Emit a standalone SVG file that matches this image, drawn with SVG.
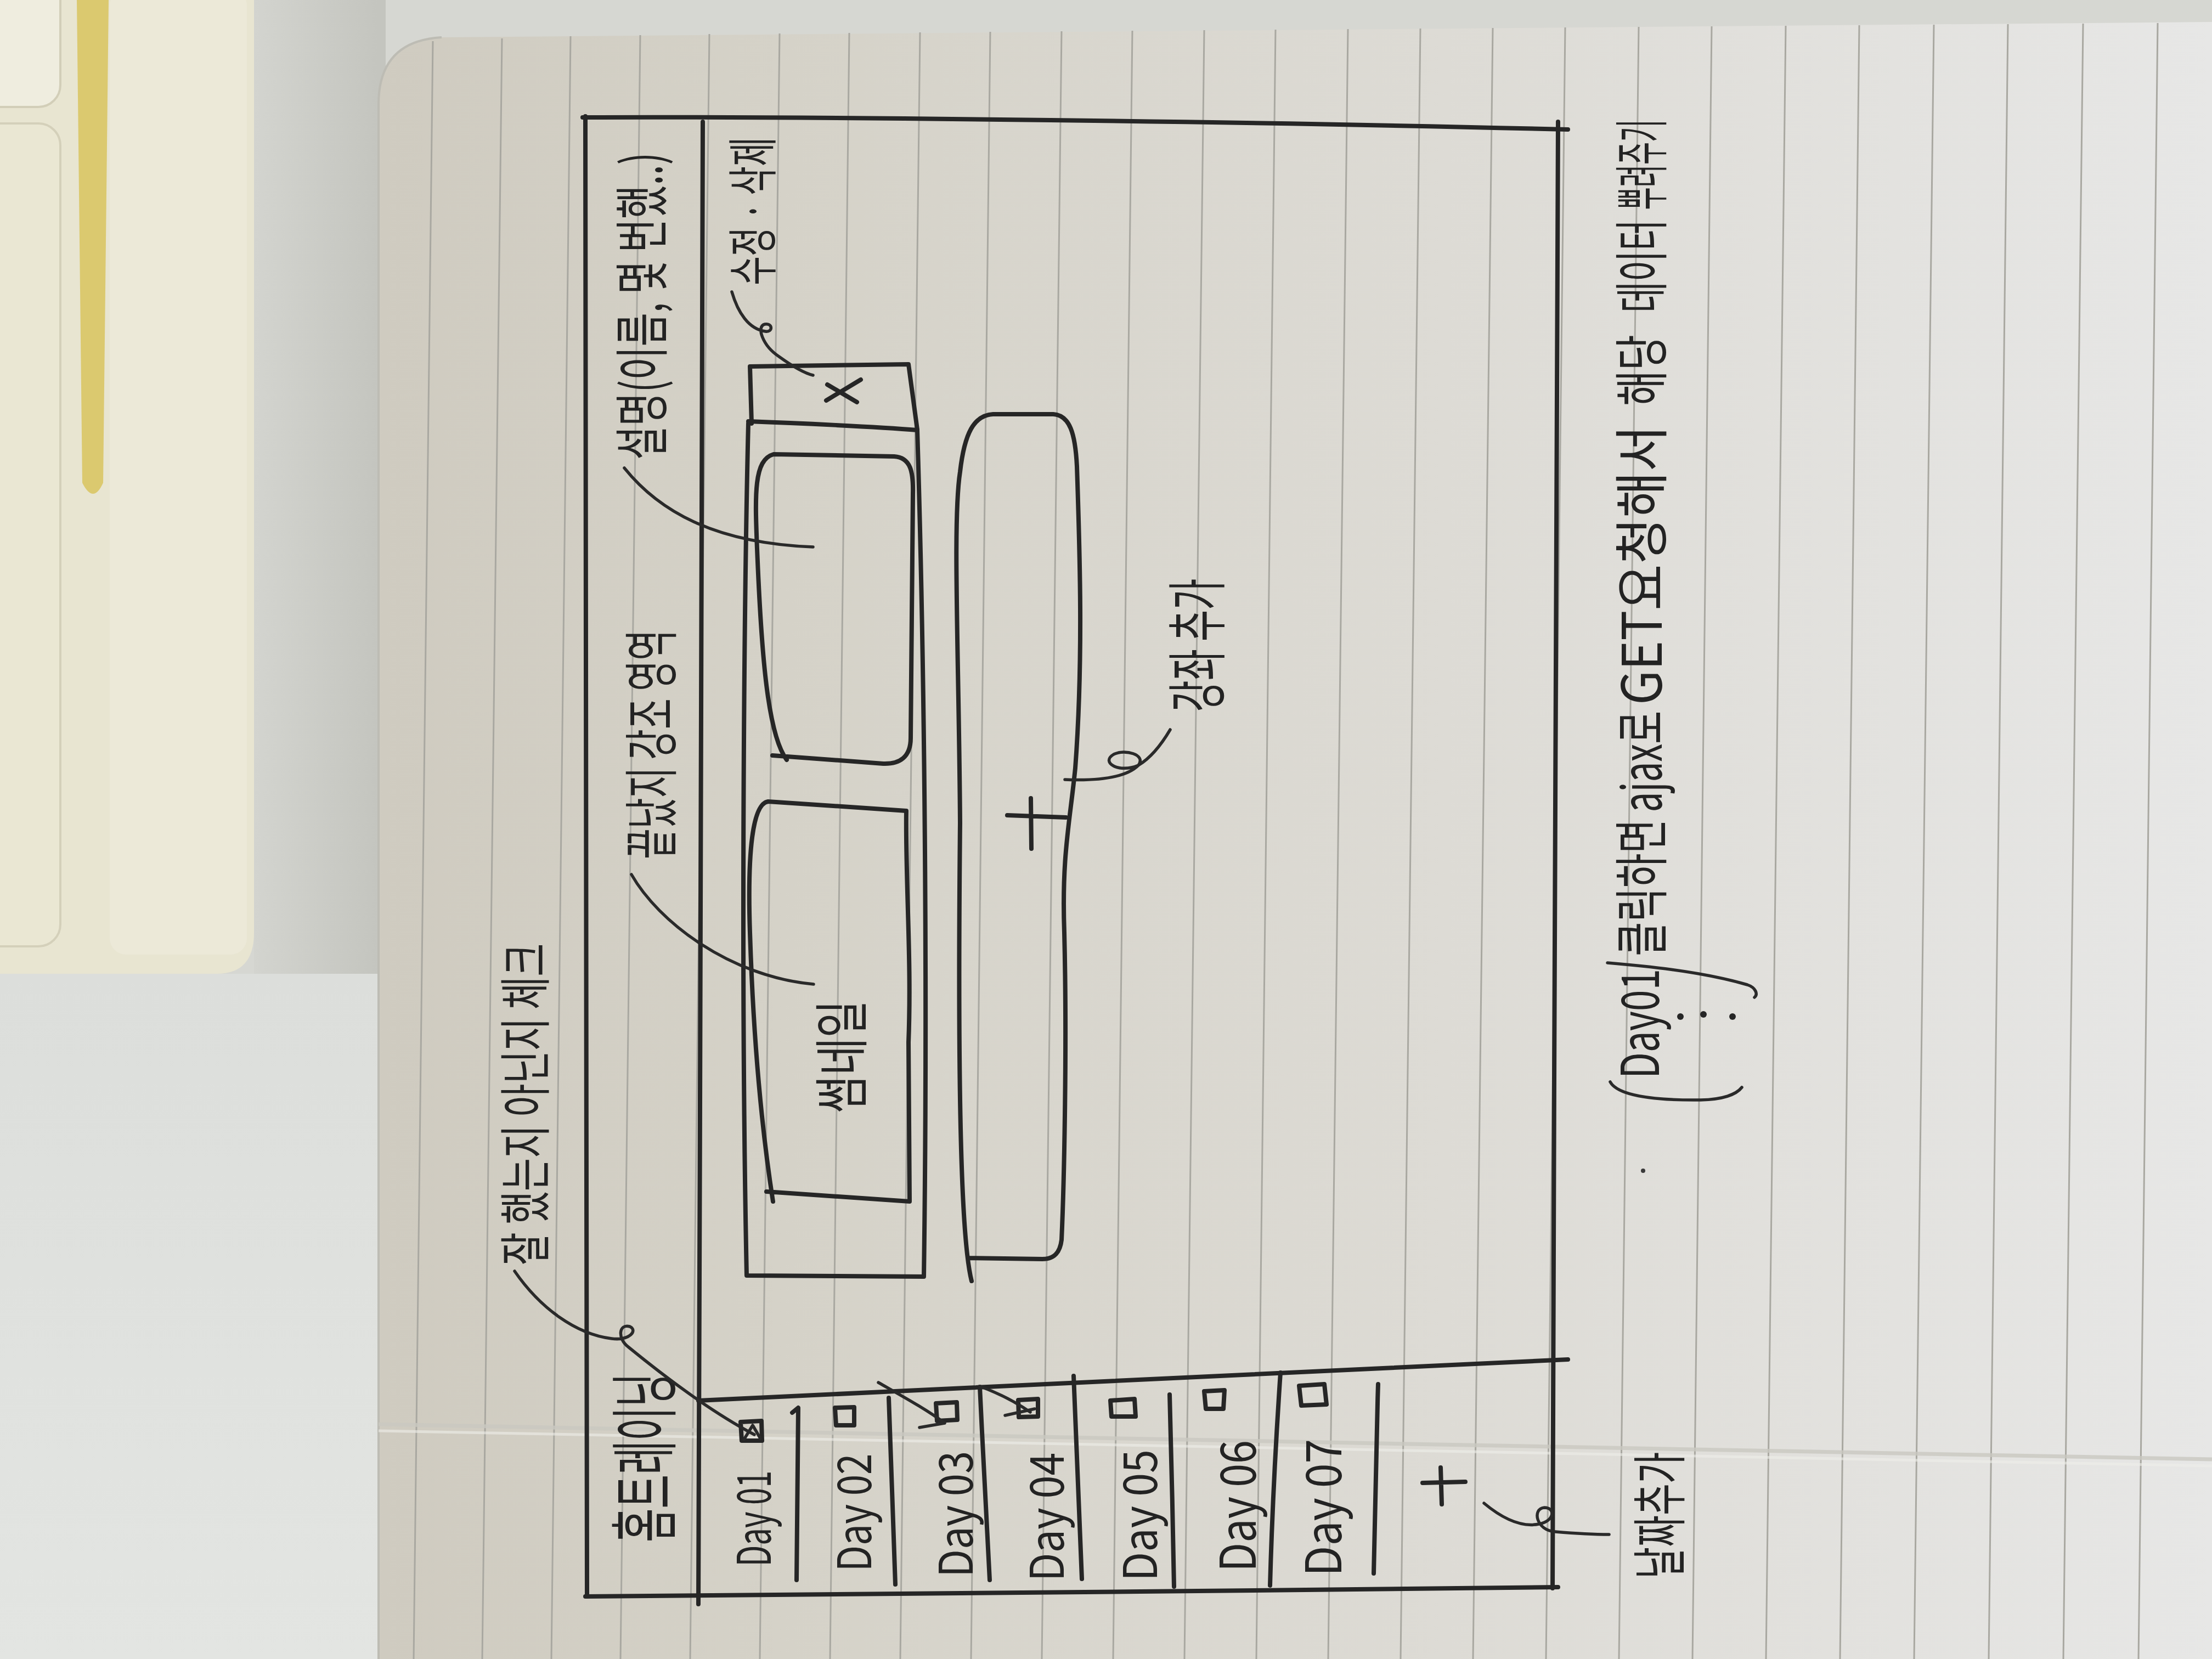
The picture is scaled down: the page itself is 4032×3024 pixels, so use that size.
<svg xmlns="http://www.w3.org/2000/svg" width="4032" height="3024" viewBox="0 0 4032 3024">
  <defs>
    <linearGradient id="paper" x1="690" y1="0" x2="4032" y2="0" gradientUnits="userSpaceOnUse">
      <stop offset="0" stop-color="#cfcbc0"/>
      <stop offset="0.22" stop-color="#d5d2c8"/>
      <stop offset="0.58" stop-color="#dddbd5"/>
      <stop offset="1" stop-color="#e7e7e6"/>
    </linearGradient>
    <linearGradient id="desk" x1="0" y1="1775" x2="0" y2="3024" gradientUnits="userSpaceOnUse">
      <stop offset="0" stop-color="#dcdedb"/>
      <stop offset="1" stop-color="#e3e5e2"/>
    </linearGradient>
    <linearGradient id="gap" x1="463" y1="0" x2="690" y2="0" gradientUnits="userSpaceOnUse">
      <stop offset="0" stop-color="#d3d4cf"/>
      <stop offset="1" stop-color="#c4c5bf"/>
    </linearGradient>
    <style>
      .ink{fill:none;stroke:#262626;stroke-width:8;stroke-linecap:round;stroke-linejoin:round}
      .thin{fill:none;stroke:#2a2a2a;stroke-width:5.5;stroke-linecap:round;stroke-linejoin:round}
      .rule{fill:none;stroke:#a9a8a1;stroke-width:3}
      .hand{fill:#232323;font-family:"Noto Sans CJK KR","Noto Sans",sans-serif;text-anchor:middle;dominant-baseline:central}
    </style>
  </defs>

  <!-- desk and keyboard at the left -->
  <rect x="0" y="0" width="4032" height="3024" fill="#d6d7d2"/>
  <rect x="0" y="1775" width="700" height="1249" fill="url(#desk)"/>
  <rect x="463" y="0" width="240" height="1775" fill="url(#gap)"/>
  <path d="M0,0 L463,0 L463,1700 Q463,1775 395,1775 L0,1775 Z" fill="#e8e5d1"/>
  <rect x="-40" y="-40" width="150" height="235" rx="40" fill="#efeddf" stroke="#d2ceb8" stroke-width="4"/>
  <rect x="-40" y="225" width="150" height="1500" rx="40" fill="#eae7d3" stroke="#d4d0ba" stroke-width="4"/>
  <path d="M140,0 L198,0 L188,880 Q170,920 150,880 Z" fill="#d8c45e" opacity="0.85"/>
  <rect x="200" y="-20" width="250" height="1760" rx="30" fill="#ece9d8"/>

  <!-- notebook page -->
  <path d="M690,3024 L690,190 Q690,75 805,68 L4032,40 L4032,3024 Z" fill="url(#paper)"/>
  <path d="M690,3024 L690,190 Q690,75 805,68" fill="none" stroke="#bdbcb4" stroke-width="4"/>

  <!-- ruled lines -->
  <g id="rules" class="rule">
    <line x1="789" y1="75" x2="754" y2="3024"/>
    <line x1="915" y1="70" x2="879" y2="3024"/>
    <line x1="1040" y1="66" x2="1005" y2="3024"/>
    <line x1="1167" y1="64" x2="1131" y2="3024"/>
    <line x1="1293" y1="62" x2="1258" y2="3024"/>
    <line x1="1421" y1="61" x2="1385" y2="3024"/>
    <line x1="1548" y1="60" x2="1513" y2="3024"/>
    <line x1="1677" y1="59" x2="1641" y2="3024"/>
    <line x1="1805" y1="58" x2="1770" y2="3024"/>
    <line x1="1935" y1="57" x2="1899" y2="3024"/>
    <line x1="2064" y1="56" x2="2029" y2="3024"/>
    <line x1="2195" y1="55" x2="2159" y2="3024"/>
    <line x1="2325" y1="54" x2="2290" y2="3024"/>
    <line x1="2457" y1="53" x2="2421" y2="3024"/>
    <line x1="2589" y1="52" x2="2553" y2="3024"/>
    <line x1="2721" y1="51" x2="2685" y2="3024"/>
    <line x1="2853" y1="50" x2="2818" y2="3024"/>
    <line x1="2987" y1="49" x2="2951" y2="3024"/>
    <line x1="3120" y1="48" x2="3085" y2="3024"/>
    <line x1="3255" y1="47" x2="3219" y2="3024"/>
    <line x1="3389" y1="46" x2="3354" y2="3024"/>
    <line x1="3525" y1="45" x2="3489" y2="3024"/>
    <line x1="3660" y1="44" x2="3625" y2="3024"/>
    <line x1="3797" y1="43" x2="3761" y2="3024"/>
    <line x1="3933" y1="42" x2="3898" y2="3024"/>
  </g>
  <!-- page crease -->
  <path d="M690,2596 L4032,2660" fill="none" stroke="#c9c8c1" stroke-width="7" opacity="0.8"/>
  <path d="M690,2608 L4032,2672" fill="none" stroke="#eeeeea" stroke-width="5" opacity="0.6"/>

  <!-- screen frame -->
  <g id="frame">
    <path class="ink" d="M1062,214 C1500,212 2300,222 2858,236"/>
    <path class="ink" d="M1067,212 C1069,900 1068,2000 1070,2910"/>
    <path class="ink" d="M2840,222 C2836,900 2833,2000 2830,2895"/>
    <path class="ink" d="M1067,2910 C1500,2906 2300,2900 2840,2893"/>
    <path class="ink" d="M1281,222 C1280,900 1276,2000 1273,2924"/>
  </g>

  <!-- header: course title -->
  <g id="header">
    <text class="hand" transform="translate(1166,2657) rotate(-90)" font-size="125" textLength="308" lengthAdjust="spacingAndGlyphs">홈트레이닝</text>
  </g>

  <!-- day list sidebar -->
  <g id="sidebar">
    <path class="ink" d="M1273,2553 C1600,2536 2200,2508 2858,2478"/>
    <path class="ink" d="M1444,2575 L1455,2566 L1452,2880"/>
    <path class="ink" d="M1620,2548 C1624,2650 1628,2780 1632,2888"/>
    <path class="ink" d="M1786,2528 C1792,2650 1798,2780 1804,2880"/>
    <path class="ink" d="M1957,2508 C1962,2650 1967,2780 1972,2878"/>
    <path class="ink" d="M2132,2542 C2135,2650 2138,2780 2140,2892"/>
    <path class="ink" d="M2334,2502 C2326,2620 2318,2780 2315,2890"/>
    <path class="ink" d="M2512,2523 C2508,2650 2505,2780 2504,2868"/>
  </g>

  <g id="day01">
    <path class="ink" d="M1350,2592 L1388,2590 L1389,2626 L1352,2626 Z"/>
    <path class="thin" d="M1356,2624 L1372,2598 L1386,2622"/>
    <text class="hand" transform="translate(1367,2768) rotate(-90)" font-size="85" textLength="175" lengthAdjust="spacingAndGlyphs">Day 01</text>
  </g>
  <g id="day02">
    <path class="ink" d="M1522,2566 L1557,2565 L1557,2598 L1524,2598 Z"/>
    <text class="hand" transform="translate(1550,2757) rotate(-90)" font-size="85" textLength="215" lengthAdjust="spacingAndGlyphs">Day 02</text>
  </g>
  <g id="day03">
    <path class="ink" d="M1706,2558 L1744,2556 L1745,2588 L1708,2590 Z"/>
    <path class="thin" d="M1601,2520 C1650,2548 1690,2570 1722,2594 L1676,2602"/>
    <text class="hand" transform="translate(1735,2760) rotate(-90)" font-size="85" textLength="230" lengthAdjust="spacingAndGlyphs">Day 03</text>
  </g>
  <g id="day04">
    <path class="ink" d="M1856,2552 L1892,2550 L1892,2582 L1857,2583 Z"/>
    <path class="thin" d="M1786,2527 C1822,2540 1852,2556 1878,2574 M1832,2580 L1886,2568"/>
    <text class="hand" transform="translate(1901,2765) rotate(-90)" font-size="85" textLength="235" lengthAdjust="spacingAndGlyphs">Day 04</text>
  </g>
  <g id="day05">
    <path class="ink" d="M2024,2553 L2068,2550 L2070,2582 L2026,2582 Z"/>
    <text class="hand" transform="translate(2071,2762) rotate(-90)" font-size="85" textLength="240" lengthAdjust="spacingAndGlyphs">Day 05</text>
  </g>
  <g id="day06">
    <path class="ink" d="M2195,2536 L2232,2534 L2230,2568 L2198,2568 Z"/>
    <text class="hand" transform="translate(2250,2745) rotate(-90)" font-size="90" textLength="240" lengthAdjust="spacingAndGlyphs">Day 06</text>
  </g>
  <g id="day07">
    <path class="ink" d="M2368,2526 L2414,2523 L2418,2560 L2372,2562 Z"/>
    <text class="hand" transform="translate(2406,2748) rotate(-90)" font-size="90" textLength="250" lengthAdjust="spacingAndGlyphs">Day 07</text>
  </g>
  <g id="add-day">
    <path class="ink" d="M2593,2703 L2671,2701 M2626,2675 L2628,2742"/>
  </g>

  <!-- lesson card -->
  <g id="card">
    <path class="ink" d="M1370,772 L1367,668 L1656,664 L1672,783"/>
    <path class="ink" d="M1364,768 C1450,771 1600,778 1672,784"/>
    <path class="ink" d="M1506,730 L1569,692 M1508,701 L1562,733"/>
    <path class="ink" d="M1364,772 C1356,1100 1350,1800 1361,2325 L1684,2327 C1690,1900 1688,1300 1672,784"/>
  </g>
  <g id="description">
    <path class="ink" d="M1434,1385 C1400,1340 1388,1200 1380,1000 C1376,900 1374,838 1410,828 L1630,832 C1660,834 1665,860 1664,900 L1660,1345 C1660,1380 1640,1393 1610,1392 L1408,1377"/>
  </g>
  <g id="thumbnail">
    <path class="ink" d="M1409,2190 C1395,2100 1375,1950 1367,1700 C1362,1550 1372,1465 1400,1461 L1652,1478 C1650,1600 1662,1750 1656,1900 L1658,2190 L1397,2172"/>
    <text class="hand" transform="translate(1527,1926) rotate(-90)" font-size="100" textLength="206" lengthAdjust="spacingAndGlyphs">썸네일</text>
  </g>

  <!-- add lesson button -->
  <g id="add-lesson">
    <path class="ink" d="M1771,2335 C1752,2260 1745,2000 1750,1500 C1748,1200 1736,950 1750,860 C1758,790 1775,757 1810,755 L1920,755 C1950,757 1960,790 1963,850 C1968,1000 1975,1200 1960,1400 C1950,1500 1935,1560 1940,1700 C1945,1900 1940,2150 1935,2260 C1932,2285 1920,2295 1900,2295 L1765,2293"/>
    <path class="ink" d="M1836,1486 L1943,1490 M1879,1455 L1880,1547"/>
  </g>

  <!-- annotation leaders -->
  <g id="connectors">
    <path class="thin" d="M938,2317 C985,2385 1050,2432 1115,2440 C1148,2444 1163,2425 1148,2418 C1128,2412 1125,2440 1145,2455 C1200,2500 1290,2570 1375,2615"/>
    <path class="thin" d="M1334,532 C1345,570 1365,600 1395,604 C1410,606 1408,588 1394,591 C1378,595 1390,630 1420,650 C1445,668 1465,680 1482,684"/>
    <path class="thin" d="M1138,853 C1200,930 1300,990 1482,997"/>
    <path class="thin" d="M1151,1594 C1200,1680 1330,1780 1483,1794"/>
    <path class="thin" d="M1941,1421 C1990,1423 2050,1420 2075,1395 C2090,1375 2050,1365 2030,1375 C2005,1390 2040,1410 2075,1395 C2100,1380 2120,1352 2133,1330"/>
    <path class="thin" d="M2705,2740 C2735,2765 2770,2785 2805,2778 C2835,2772 2835,2748 2815,2748 C2792,2750 2800,2790 2835,2792 C2870,2795 2905,2797 2933,2797"/>
  </g>

  <!-- annotations -->
  <g id="note-check">
    <text class="hand" transform="translate(951,2013) rotate(-90)" font-size="95" textLength="587" lengthAdjust="spacingAndGlyphs">잘 했는지 아닌지 체크</text>
  </g>
  <g id="note-edit">
    <text class="hand" transform="translate(1365,385) rotate(-90)" font-size="92" textLength="270" lengthAdjust="spacingAndGlyphs">수정 · 삭제</text>
  </g>
  <g id="note-desc">
    <text class="hand" transform="translate(1163,558) rotate(-90)" font-size="100" textLength="560" lengthAdjust="spacingAndGlyphs">설명(이름, 몇 번했..)</text>
  </g>
  <g id="note-done">
    <text class="hand" transform="translate(1180,1357) rotate(-90)" font-size="100" textLength="418" lengthAdjust="spacingAndGlyphs">끝났지 강조 영역</text>
  </g>
  <g id="note-add-lesson">
    <text class="hand" transform="translate(2175,1176) rotate(-90)" font-size="110" textLength="243" lengthAdjust="spacingAndGlyphs">강좌 추가</text>
  </g>
  <g id="note-add-day">
    <text class="hand" transform="translate(3018,2762) rotate(-90)" font-size="100" textLength="231" lengthAdjust="spacingAndGlyphs">날짜추가</text>
  </g>

  <!-- request note -->
  <g id="note-ajax">
    <path class="thin" d="M2935,1972 C2948,1996 3010,2006 3100,2005 C3140,2004 3165,1995 3175,1982"/>
    <path class="thin" d="M2930,1755 C2990,1760 3100,1770 3185,1795 C3200,1800 3205,1812 3198,1818"/>
    <circle cx="3063" cy="1853" r="6" fill="#262626"/>
    <circle cx="3105" cy="1849" r="6" fill="#262626"/>
    <circle cx="3158" cy="1853" r="6" fill="#262626"/>
    <circle cx="2995" cy="2134" r="4" fill="#3a3a3a"/>
    <text class="hand" transform="translate(2982,1866) rotate(-90)" font-size="95" textLength="200" lengthAdjust="spacingAndGlyphs">Day01</text>
    <text class="hand" transform="translate(2985,1618) rotate(-90)" font-size="100" textLength="250" lengthAdjust="spacingAndGlyphs">클릭하면</text>
    <text class="hand" transform="translate(2985,1388) rotate(-90)" font-size="100" textLength="185" lengthAdjust="spacingAndGlyphs">ajax로</text>
    <text class="hand" transform="translate(2985,1030) rotate(-90)" font-size="100" textLength="510" lengthAdjust="spacingAndGlyphs">GET요청해서</text>
    <text class="hand" transform="translate(2985,675) rotate(-90)" font-size="100" textLength="130" lengthAdjust="spacingAndGlyphs">해당</text>
    <text class="hand" transform="translate(2985,485) rotate(-90)" font-size="100" textLength="170" lengthAdjust="spacingAndGlyphs">데이터</text>
    <text class="hand" transform="translate(2985,300) rotate(-90)" font-size="100" textLength="165" lengthAdjust="spacingAndGlyphs">뿌려주기</text>
  </g>
</svg>
